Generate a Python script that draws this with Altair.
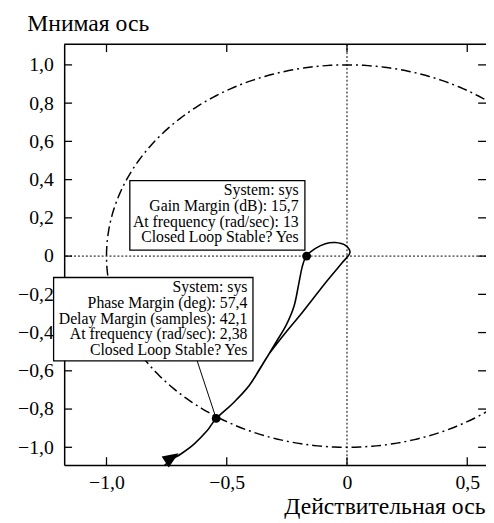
import altair as alt
import pandas as pd
import numpy as np

FONT = "Liberation Serif"
W, H = 428, 427

# axis ranges and ticks
x_domain = [-1.176, 0.578]
y_domain = [-1.093, 1.108]
x_ticks = [-1.0, -0.5, 0.0, 0.5]
y_ticks = [-1.0, -0.8, -0.6, -0.4, -0.2, 0.0, 0.2, 0.4, 0.6, 0.8, 1.0]

# Nyquist curve
curve_re = [-0.787, -0.739, -0.691, -0.636, -0.582, -0.544, -0.473, -0.405, -0.336,
            -0.295, -0.254, -0.220, -0.200, -0.186, -0.169,
            -0.131, -0.090, -0.049, -0.008, 0.012,
            -0.022, -0.090, -0.186, -0.254, -0.323,
            -0.362, -0.405, -0.473, -0.533]
curve_im = [-1.134, -1.072, -1.035, -0.983, -0.914, -0.849, -0.768, -0.674, -0.536,
            -0.450, -0.364, -0.261, -0.141, -0.055, 0.0,
            0.040, 0.065, 0.071, 0.057, 0.017,
            -0.038, -0.141, -0.295, -0.398, -0.510,
            -0.588, -0.674, -0.768, -0.835]

# marked points
marker_re = [-0.168, -0.544]
marker_im = [0.0, -0.849]
arrow_re = [-0.733]
arrow_im = [-1.058]

# annotation boxes
gm_lines = ["System: sys", "Gain Margin (dB): 15,7",
            "At frequency (rad/sec): 13", "Closed Loop Stable? Yes"]
pm_lines = ["System: sys", "Phase Margin (deg): 57,4",
            "Delay Margin (samples): 42,1", "At frequency (rad/sec): 2,38",
            "Closed Loop Stable? Yes"]
box_x1 = [-0.903, -1.220]
box_x2 = [-0.175, -0.391]
box_y1 = [0.395, -0.112]
box_y2 = [0.031, -0.548]
text_x = [-0.201, -0.414]
text_y = [0.3196, -0.188]
leader_re = [-0.623, -0.544]
leader_im = [-0.548, -0.849]

# unit circle (reference geometry)
t = np.linspace(0, 2 * np.pi, 361)
circle = pd.DataFrame({"re": np.cos(t), "im": np.sin(t), "i": np.arange(len(t))})

xs = alt.Scale(domain=x_domain, nice=False, zero=False)
ys = alt.Scale(domain=y_domain, nice=False, zero=False)

lab = ("abs(datum.value) < 1e-9 ? '0' : (datum.value < 0 ? '\u2212' : '') + "
       "replace(format(abs(datum.value), '.1f'), '.', ',')")

x_axis = alt.Axis(values=x_ticks, labelExpr=lab, grid=False, ticks=False, tickSize=0,
                  domain=True, domainColor="black", domainWidth=1.5,
                  labelFont=FONT, labelFontSize=20, labelColor="black", labelPadding=8,
                  title="Действительная ось", titleFont=FONT, titleFontSize=24,
                  titleFontWeight="normal", titleColor="black", titleAlign="right",
                  titleBaseline="alphabetic", titleX=427, titleY=49, zindex=0)
y_axis = alt.Axis(values=y_ticks, labelExpr=lab, grid=False, ticks=False, tickSize=0,
                  domain=True, domainColor="black", domainWidth=1.5,
                  labelFont=FONT, labelFontSize=20, labelColor="black", labelPadding=11,
                  title="Мнимая ось", titleFont=FONT, titleFontSize=24,
                  titleFontWeight="normal", titleColor="black", titleAngle=0,
                  titleAlign="left", titleBaseline="alphabetic", titleX=-38, titleY=-14,
                  zindex=0)

def X(f):
    return alt.X(f, scale=xs, axis=x_axis)

def Y(f):
    return alt.Y(f, scale=ys, axis=y_axis)

circle_layer = alt.Chart(circle).mark_line(
    color="black", strokeWidth=1.5, strokeDash=[10, 4, 2, 4], clip=True
).encode(x=X("re:Q"), y=Y("im:Q"), order="i:Q")

one = pd.DataFrame({"a": [0]})
vline = alt.Chart(one).mark_rule(color="black", strokeWidth=1, strokeDash=[2, 2]).encode(
    x=alt.datum(0, scale=xs, axis=x_axis))
hline = alt.Chart(one).mark_rule(color="black", strokeWidth=1, strokeDash=[2, 2]).encode(
    y=alt.datum(0, scale=ys, axis=y_axis))

top_frame = alt.Chart(one).mark_rule(color="black", strokeWidth=1.5).encode(
    x=alt.value(0), x2=alt.value(W), y=alt.value(0))

xt = pd.DataFrame({"v": x_ticks})
yt = pd.DataFrame({"v": y_ticks})
tick_style = dict(color="black", strokeWidth=1.3)
bottom_ticks = alt.Chart(xt).mark_rule(**tick_style).encode(
    x=X("v:Q"), y=alt.value(H), y2=alt.value(H - 8))
top_ticks = alt.Chart(xt).mark_rule(**tick_style).encode(
    x=X("v:Q"), y=alt.value(0), y2=alt.value(8))
left_ticks = alt.Chart(yt).mark_rule(**tick_style).encode(
    y=Y("v:Q"), x=alt.value(0), x2=alt.value(8))
right_ticks = alt.Chart(yt).mark_rule(**tick_style).encode(
    y=Y("v:Q"), x=alt.value(W - 8), x2=alt.value(W))

curve = pd.DataFrame({"re": curve_re, "im": curve_im, "i": range(len(curve_re))})
curve_layer = alt.Chart(curve).mark_line(
    color="black", strokeWidth=1.6, interpolate="cardinal", clip=True
).encode(x=X("re:Q"), y=Y("im:Q"), order="i:Q")

arrow = alt.Chart(pd.DataFrame({"re": arrow_re, "im": arrow_im})).mark_point(
    shape="M0,-1L0.7,0.7L-0.7,0.7Z", angle=57, size=360, filled=True,
    color="black", opacity=1, strokeWidth=0
).encode(x=X("re:Q"), y=Y("im:Q"))

boxes = pd.DataFrame({"x1": box_x1, "x2": box_x2, "y1": box_y1, "y2": box_y2})
box_layer = alt.Chart(boxes).mark_rect(
    fill="white", stroke="black", strokeWidth=1.3, clip=False
).encode(x=X("x1:Q"), x2="x2:Q", y=Y("y1:Q"), y2="y2:Q")

leader = pd.DataFrame({"re": leader_re, "im": leader_im})
leader_layer = alt.Chart(leader).mark_line(color="black", strokeWidth=1, clip=False).encode(
    x=X("re:Q"), y=Y("im:Q"))

def text_layer(k, lines):
    df = pd.DataFrame({"x": [text_x[k]], "y": [text_y[k]]})
    return alt.Chart(df).mark_text(
        text=lines, align="right", baseline="alphabetic", font=FONT,
        fontSize=16, lineHeight=16, color="black", clip=False
    ).encode(x=X("x:Q"), y=Y("y:Q"))

markers = alt.Chart(pd.DataFrame({"re": marker_re, "im": marker_im})).mark_point(
    shape="circle", size=80, filled=True, color="black", opacity=1
).encode(x=X("re:Q"), y=Y("im:Q"))

chart = alt.layer(
    circle_layer, vline, hline, top_frame,
    bottom_ticks, top_ticks, left_ticks, right_ticks,
    curve_layer, arrow, box_layer, leader_layer,
    text_layer(0, gm_lines), text_layer(1, pm_lines), markers,
).properties(
    width=W, height=H,
    padding={"left": 57, "top": 33, "right": 0, "bottom": 55},
    autosize=alt.AutoSizeParams(type="none"),
    background="white",
).configure_view(stroke=None).configure(font=FONT)

chart.save("out.html", embed_options={"renderer": "svg", "actions": False})
